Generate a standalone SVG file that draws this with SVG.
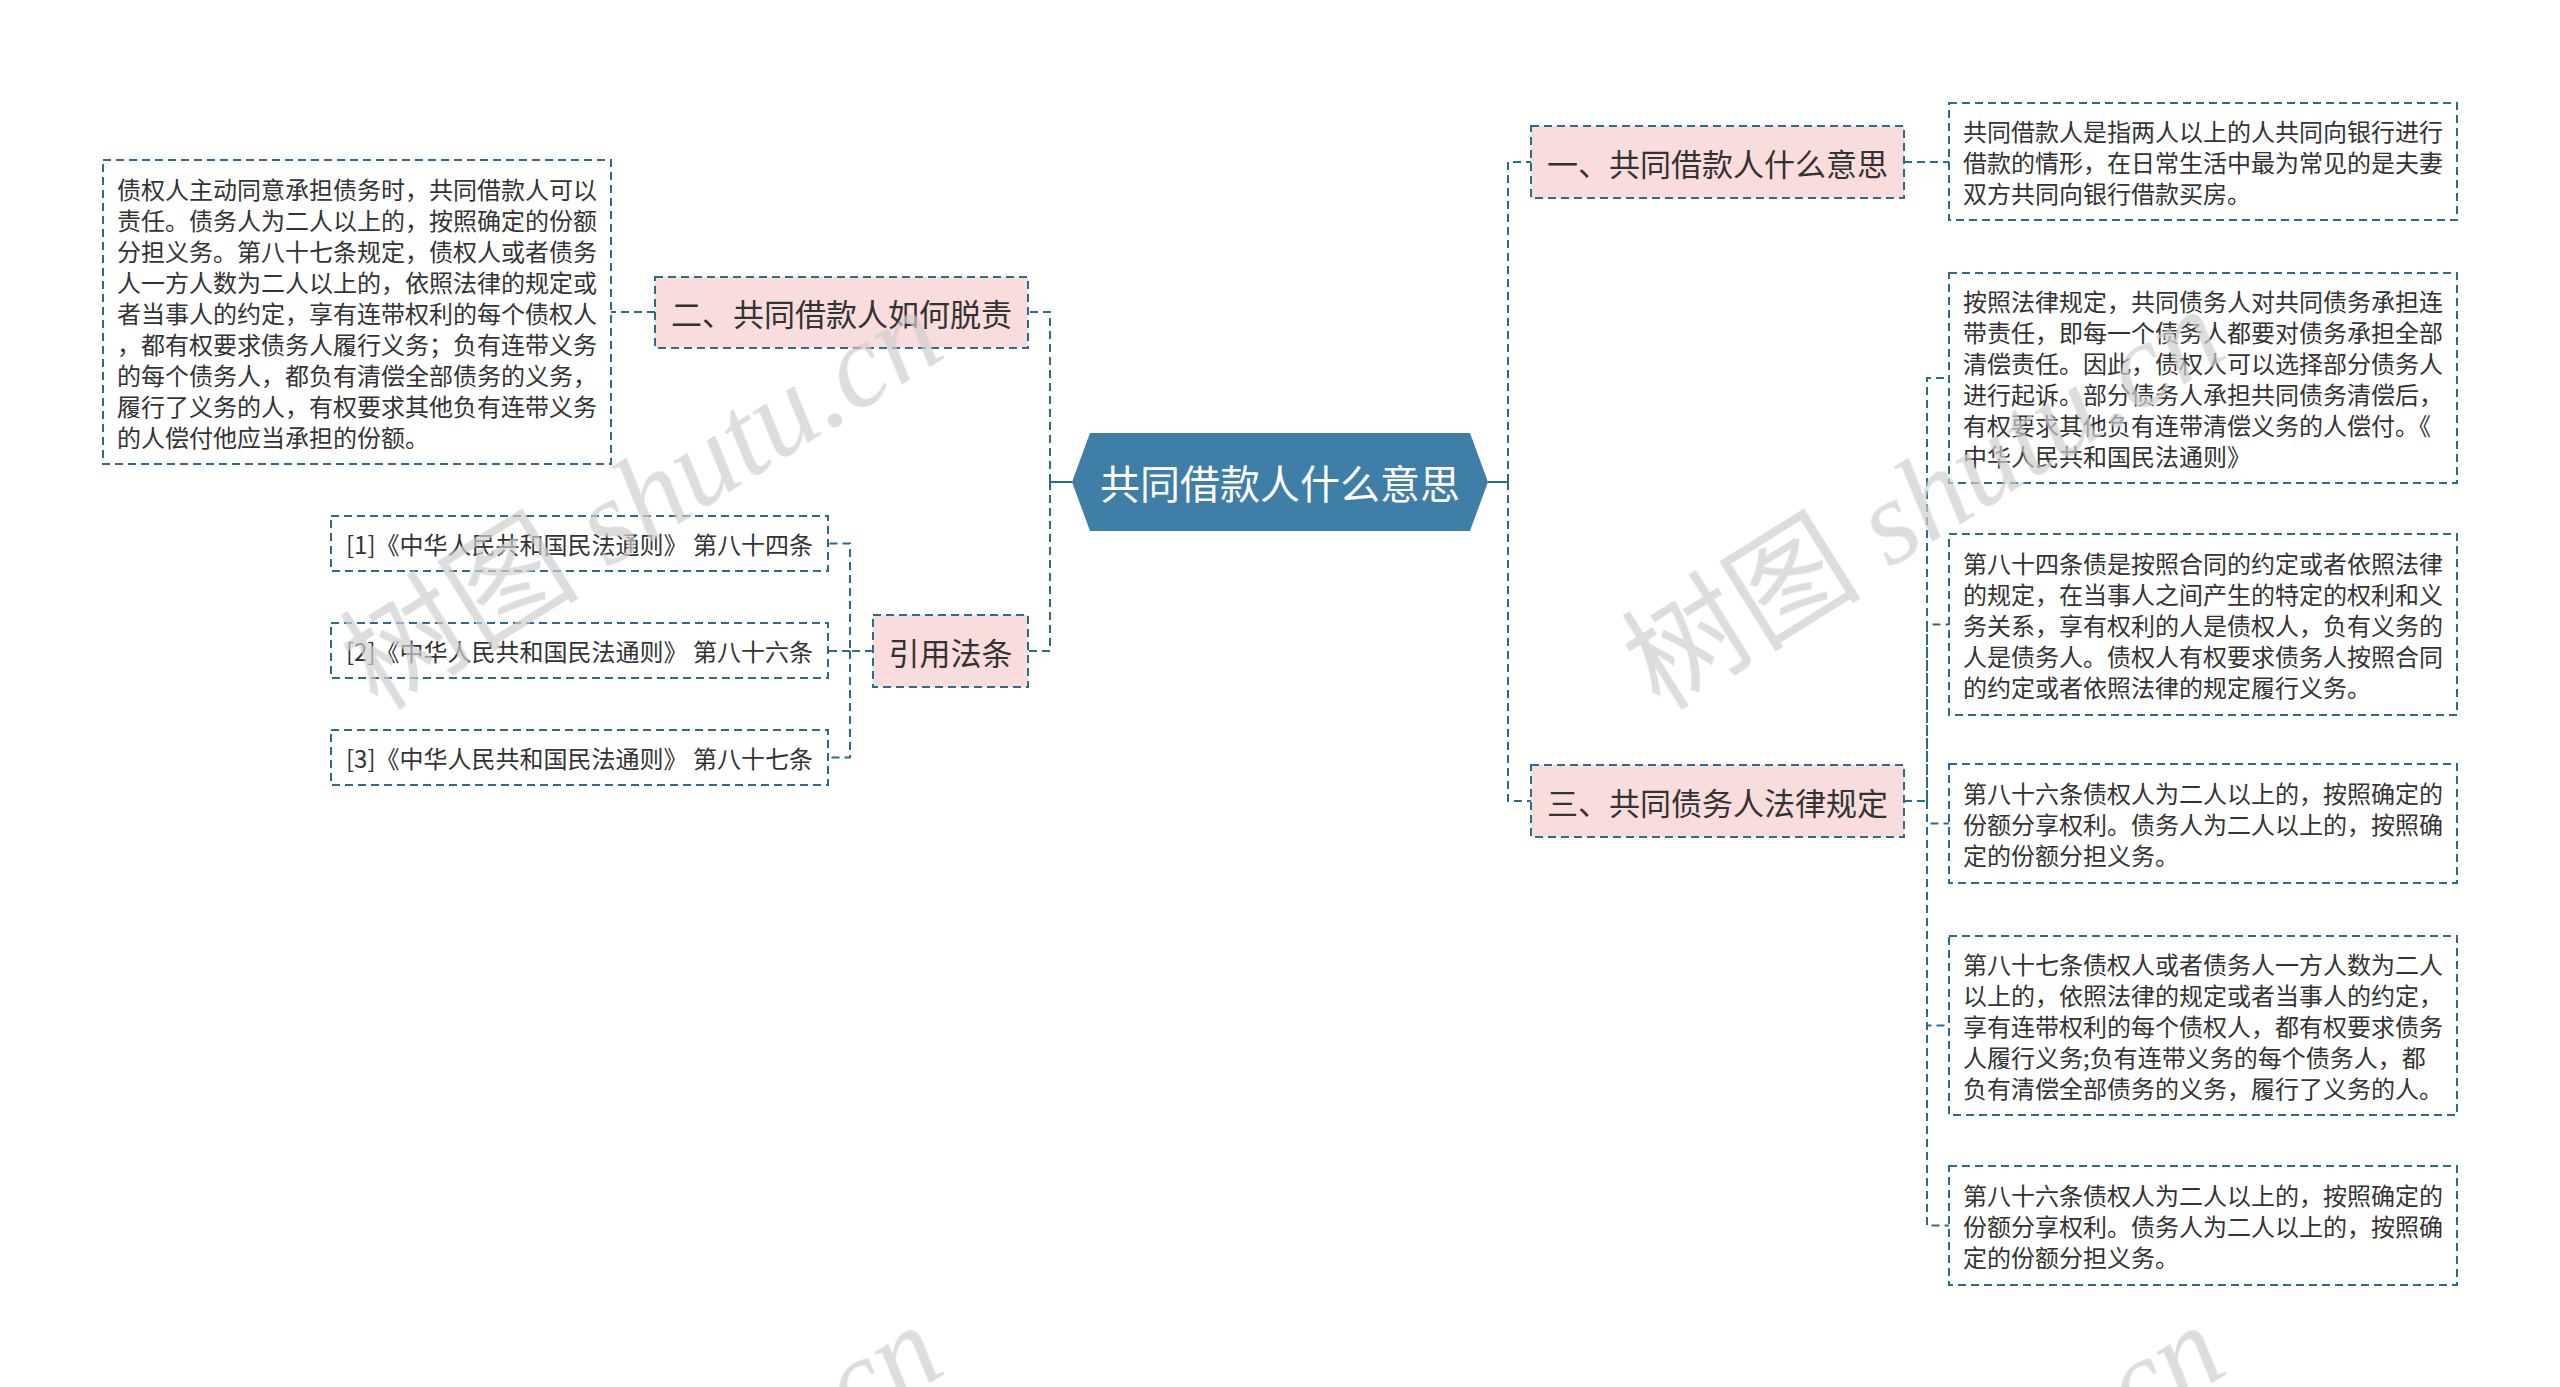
<svg xmlns="http://www.w3.org/2000/svg" width="2560" height="1387" viewBox="0 0 2560 1387">
<style>
.bg{fill:#ffffff}
.box{fill:#ffffff;stroke:#2d6a8f;stroke-width:2;stroke-dasharray:8 5}
.topic{fill:#f9dcdc;stroke:#2d6a8f;stroke-width:2;stroke-dasharray:8 5}
.conn{fill:none;stroke:#2d6a8f;stroke-width:2;stroke-dasharray:8 5}
.solid{fill:none;stroke:#2d6a8f;stroke-width:2}
.t{font-family:"Noto Sans CJK SC","Noto Sans",sans-serif;fill:#333333;dominant-baseline:central}
.s24{font-size:24px}
.s31{font-size:31px}
.root{font-family:"Noto Sans CJK SC","Noto Sans",sans-serif;font-size:40px;fill:#ffffff;dominant-baseline:central;text-anchor:middle}
.mid{text-anchor:middle}
.wm{fill:#cfcfcf;opacity:0.7;font-size:120px}
.wmc{font-family:"Noto Sans CJK SC",sans-serif}
.wml{font-family:"Liberation Serif",serif;font-style:italic}
</style>
<rect class="bg" x="0" y="0" width="2560" height="1387"/>

<g id="connectors">
<path class="solid" d="M1488,482 H1508"/>
<path class="conn" d="M1508,482 V162 H1531"/>
<path class="conn" d="M1508,482 V801 H1531"/>
<path class="conn" d="M1904,162 H1949"/>
<path class="conn" d="M1904,801 H1927 V378 H1949"/>
<path class="conn" d="M1927,801 V624.5 H1949"/>
<path class="conn" d="M1927,801 V823.5 H1949"/>
<path class="conn" d="M1927,801 V1025.5 H1949"/>
<path class="conn" d="M1927,801 V1225.5 H1949"/>
<path class="solid" d="M1072,482 H1050"/>
<path class="conn" d="M1050,482 V312 H1028"/>
<path class="conn" d="M1050,482 V651 H1028"/>
<path class="conn" d="M655,312 H611"/>
<path class="conn" d="M873,651 H850 V543.5 H828"/>
<path class="conn" d="M850,651 H828"/>
<path class="conn" d="M850,651 V757.5 H828"/>
</g>

<g id="root">
<polygon points="1072,482 1090,433 1470,433 1488,482 1470,531 1090,531" fill="#3f7ea6"/>
<text class="root" x="1280" y="482">共同借款人什么意思</text>
</g>

<g id="n1">
<rect class="topic" x="1531" y="126" width="373" height="72"/>
<text class="t s31 mid" x="1717.5" y="162">一、共同借款人什么意思</text>
</g>
<g id="n1d">
<rect class="box" x="1949" y="103" width="508" height="117"/>
<text class="t s24" x="1963" y="130.5">共同借款人是指两人以上的人共同向银行进行</text>
<text class="t s24" x="1963" y="161.5">借款的情形，在日常生活中最为常见的是夫妻</text>
<text class="t s24" x="1963" y="192.5">双方共同向银行借款买房。</text>
</g>

<g id="n3">
<rect class="topic" x="1531" y="765" width="373" height="72"/>
<text class="t s31 mid" x="1717.5" y="801">三、共同债务人法律规定</text>
</g>
<g id="c1">
<rect class="box" x="1949" y="273" width="508" height="210"/>
<text class="t s24" x="1963" y="300.5">按照法律规定，共同债务人对共同债务承担连</text>
<text class="t s24" x="1963" y="331.5">带责任，即每一个债务人都要对债务承担全部</text>
<text class="t s24" x="1963" y="362.5">清偿责任。因此，债权人可以选择部分债务人</text>
<text class="t s24" x="1963" y="393.5">进行起诉。部分债务人承担共同债务清偿后，</text>
<text class="t s24" x="1963" y="424.5">有权要求其他负有连带清偿义务的人偿付。《</text>
<text class="t s24" x="1963" y="455.5">中华人民共和国民法通则》</text>
</g>
<g id="c2">
<rect class="box" x="1949" y="534" width="508" height="181"/>
<text class="t s24" x="1963" y="562.5">第八十四条债是按照合同的约定或者依照法律</text>
<text class="t s24" x="1963" y="593.5">的规定，在当事人之间产生的特定的权利和义</text>
<text class="t s24" x="1963" y="624.5">务关系，享有权利的人是债权人，负有义务的</text>
<text class="t s24" x="1963" y="655.5">人是债务人。债权人有权要求债务人按照合同</text>
<text class="t s24" x="1963" y="686.5">的约定或者依照法律的规定履行义务。</text>
</g>
<g id="c3">
<rect class="box" x="1949" y="764" width="508" height="119"/>
<text class="t s24" x="1963" y="792.5">第八十六条债权人为二人以上的，按照确定的</text>
<text class="t s24" x="1963" y="823.5">份额分享权利。债务人为二人以上的，按照确</text>
<text class="t s24" x="1963" y="854.5">定的份额分担义务。</text>
</g>
<g id="c4">
<rect class="box" x="1949" y="936" width="508" height="179"/>
<text class="t s24" x="1963" y="963.5">第八十七条债权人或者债务人一方人数为二人</text>
<text class="t s24" x="1963" y="994.5">以上的，依照法律的规定或者当事人的约定，</text>
<text class="t s24" x="1963" y="1025.5">享有连带权利的每个债权人，都有权要求债务</text>
<text class="t s24" x="1963" y="1056.5">人履行义务;负有连带义务的每个债务人，都</text>
<text class="t s24" x="1963" y="1087.5">负有清偿全部债务的义务，履行了义务的人。</text>
</g>
<g id="c5">
<rect class="box" x="1949" y="1166" width="508" height="119"/>
<text class="t s24" x="1963" y="1194.5">第八十六条债权人为二人以上的，按照确定的</text>
<text class="t s24" x="1963" y="1225.5">份额分享权利。债务人为二人以上的，按照确</text>
<text class="t s24" x="1963" y="1256.5">定的份额分担义务。</text>
</g>

<g id="n2">
<rect class="topic" x="655" y="277" width="373" height="71"/>
<text class="t s31 mid" x="841.5" y="312.5">二、共同借款人如何脱责</text>
</g>
<g id="n2d">
<rect class="box" x="103" y="160" width="508" height="304"/>
<text class="t s24" x="117" y="188">债权人主动同意承担债务时，共同借款人可以</text>
<text class="t s24" x="117" y="219">责任。债务人为二人以上的，按照确定的份额</text>
<text class="t s24" x="117" y="250">分担义务。第八十七条规定，债权人或者债务</text>
<text class="t s24" x="117" y="281">人一方人数为二人以上的，依照法律的规定或</text>
<text class="t s24" x="117" y="312">者当事人的约定，享有连带权利的每个债权人</text>
<text class="t s24" x="117" y="343">，都有权要求债务人履行义务；负有连带义务</text>
<text class="t s24" x="117" y="374">的每个债务人，都负有清偿全部债务的义务，</text>
<text class="t s24" x="117" y="405">履行了义务的人，有权要求其他负有连带义务</text>
<text class="t s24" x="117" y="436">的人偿付他应当承担的份额。</text>
</g>

<g id="n4">
<rect class="topic" x="873" y="615" width="155" height="72"/>
<text class="t s31 mid" x="950.5" y="651">引用法条</text>
</g>
<g id="r1">
<rect class="box" x="331" y="516" width="497" height="55"/>
<text class="t s24" x="346" y="543.5">[1]《中华人民共和国民法通则》 第八十四条</text>
</g>
<g id="r2">
<rect class="box" x="331" y="623" width="497" height="55"/>
<text class="t s24" x="346" y="650.5">[2]《中华人民共和国民法通则》 第八十六条</text>
</g>
<g id="r3">
<rect class="box" x="331" y="730" width="497" height="55"/>
<text class="t s24" x="346" y="757.5">[3]《中华人民共和国民法通则》 第八十七条</text>
</g>

<g id="watermarks" class="wm">
<text transform="translate(378,712) rotate(-32)"><tspan class="wmc">树图</tspan><tspan class="wml"> shutu.cn</tspan></text>
<text transform="translate(1660,712) rotate(-32)"><tspan class="wmc">树图</tspan><tspan class="wml"> shutu.cn</tspan></text>
<text transform="translate(378,1728) rotate(-32)"><tspan class="wmc">树图</tspan><tspan class="wml"> shutu.cn</tspan></text>
<text transform="translate(1660,1728) rotate(-32)"><tspan class="wmc">树图</tspan><tspan class="wml"> shutu.cn</tspan></text>
</g>
</svg>
